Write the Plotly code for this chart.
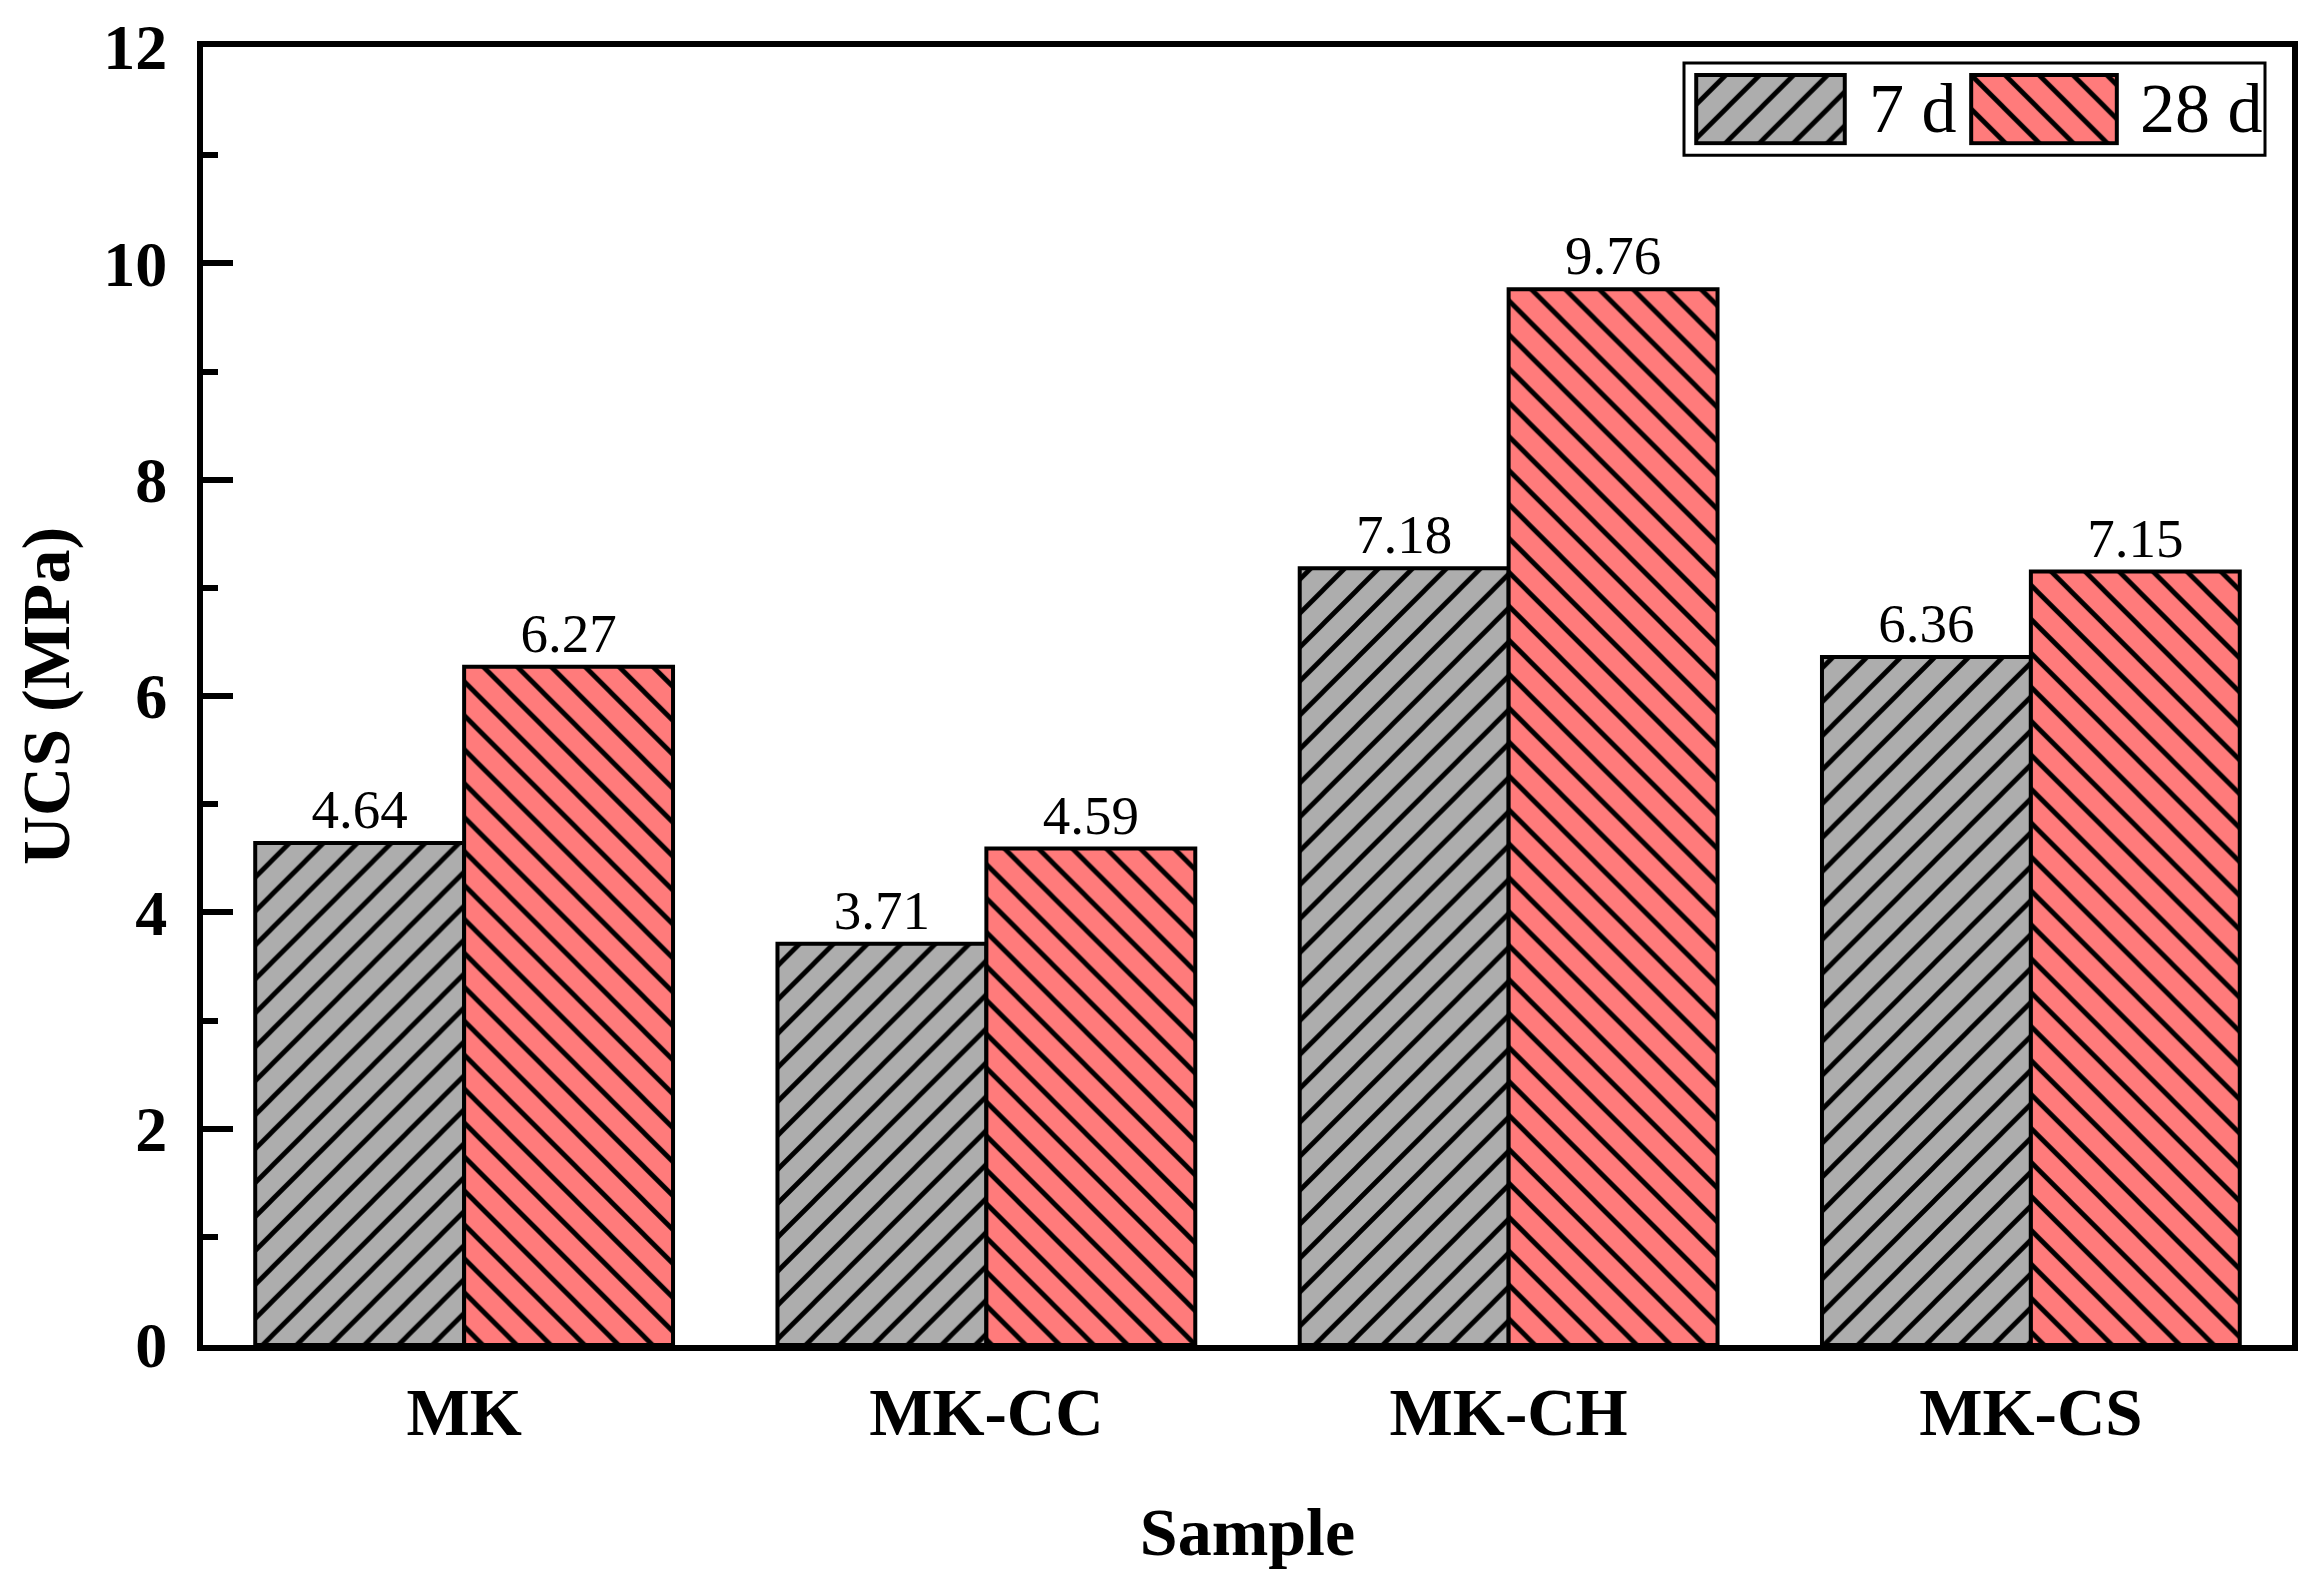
import plotly.graph_objects as go

samples = ["MK", "MK-CC", "MK-CH", "MK-CS"]
ucs_7d = [4.64, 3.71, 7.18, 6.36]
ucs_28d = [6.27, 4.59, 9.76, 7.15]
series_names = ["7 d", "28 d"]
y_ticks = [0, 2, 4, 6, 8, 10, 12]

GRAY = "#ADADAD"
RED = "#FF7B7B"
FONT = "Liberation Serif"
W, H = 2324, 1586
L, R, T, B = 203, 32, 39, 241
PW, PH = W - L - R, H - T - B


def px_x(x):
    return (x - L) / PW


def px_y(y):
    return (H - B - y) / PH


def pattern(shape, bg):
    return dict(shape=shape, fgcolor="black", bgcolor=bg, size=24,
                solidity=0.2, fillmode="replace")


fig = go.Figure()
for name, vals, col, shp in [(series_names[0], ucs_7d, GRAY, "/"),
                              (series_names[1], ucs_28d, RED, "\\")]:
    fig.add_trace(go.Bar(
        x=samples, y=vals, name=name,
        marker=dict(color=col, line=dict(color="black", width=4),
                    pattern=pattern(shp, col)),
        text=[f"{v:.2f}" for v in vals], textposition="outside",
        textfont=dict(family=FONT, size=55, color="black"),
        cliponaxis=False, showlegend=False,
    ))

# legend swatches drawn as bars in small inset axes
for i, (col, shp) in enumerate([(GRAY, "/"), (RED, "\\")]):
    ax = i + 2
    fig.add_trace(go.Bar(
        x=[0], y=[1], width=[1], xaxis=f"x{ax}", yaxis=f"y{ax}",
        marker=dict(color=col, line=dict(color="black", width=4),
                    pattern=pattern(shp, col)),
        showlegend=False, hoverinfo="skip",
    ))

sw_x = [(1694, 1847), (1969, 2119)]
sw_y = (65, 138)
for i, (x0, x1) in enumerate(sw_x):
    ax = i + 2
    fig.update_layout(**{
        f"xaxis{ax}": dict(domain=[px_x(x0), px_x(x1)], anchor=f"y{ax}",
                           range=[-0.515, 0.515], visible=False),
        f"yaxis{ax}": dict(domain=[px_y(sw_y[1]), px_y(sw_y[0])], anchor=f"x{ax}",
                           range=[-0.03, 1.03], visible=False),
    })

fig.add_shape(type="rect", xref="paper", yref="paper",
              x0=px_x(1684), x1=px_x(2265), y0=px_y(148), y1=px_y(55),
              line=dict(color="black", width=3), fillcolor="white", layer="below")
for txt, xl in [(series_names[0], 1867), (series_names[1], 2138)]:
    fig.add_annotation(text=txt, xref="paper", yref="paper", x=px_x(xl), y=px_y(101),
                       xanchor="left", yanchor="middle", showarrow=False,
                       font=dict(family=FONT, size=70, color="black"))

fig.update_layout(
    width=W, height=H,
    margin=dict(l=L, r=R, t=T, b=B, pad=0),
    paper_bgcolor="white", plot_bgcolor="white",
    barmode="group", bargap=0.2, bargroupgap=0,
    font=dict(family=FONT, color="black"),
    xaxis=dict(
        showline=True, linecolor="black", linewidth=6, mirror=True,
        ticks="", showgrid=False,
        tickfont=dict(family=FONT, size=67, weight="bold"),
        ticklabelstandoff=4,
        title=dict(text="Sample", font=dict(family=FONT, size=68, weight="bold"),
                   standoff=61),
    ),
    yaxis=dict(
        range=[0, 12], tickvals=y_ticks, ticktext=[str(v) for v in y_ticks],
        showline=True, linecolor="black", linewidth=6, mirror=True,
        ticks="inside", ticklen=30, tickwidth=6, tickcolor="black",
        minor=dict(ticks="inside", ticklen=15, tickwidth=6, dtick=1, tickcolor="black"),
        showgrid=False, zeroline=False, ticklabeloverflow="allow",
        tickfont=dict(family=FONT, size=64, weight="bold"),
        ticklabelstandoff=17,
        title=dict(text="UCS (MPa)", font=dict(family=FONT, size=68, weight="bold"),
                   standoff=13),
    ),
)

fig.write_html("out.html", config={"displayModeBar": False},
               post_script="document.body.style.margin='0px';")
